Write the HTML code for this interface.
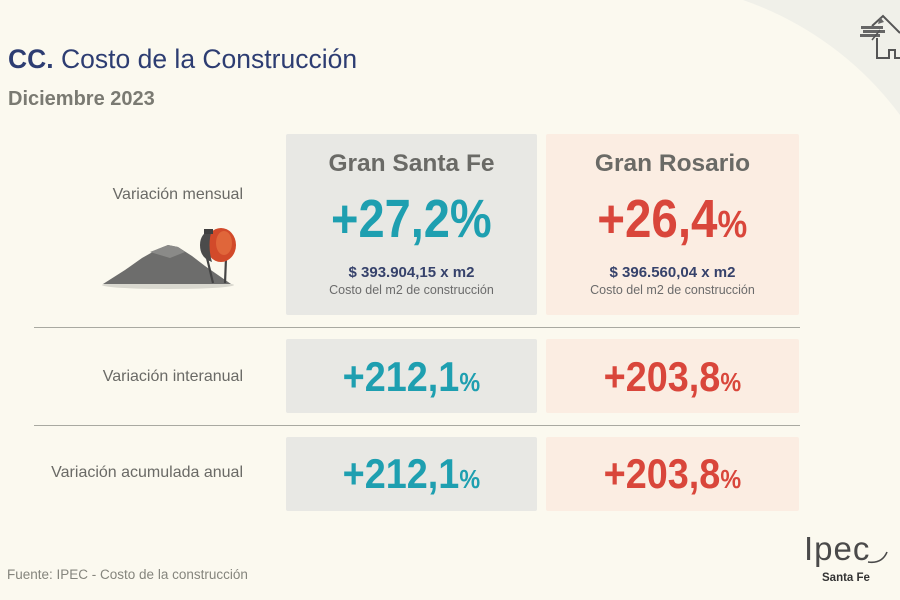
<!DOCTYPE html>
<html>
<head>
<meta charset="utf-8">
<style>
  html,body{margin:0;padding:0;}
  body{width:900px;height:600px;position:relative;overflow:hidden;background:#fbf9ef;font-family:"Liberation Sans",sans-serif;}
  .abs{position:absolute;white-space:nowrap;}
  .card{position:absolute;border-radius:2px;}
  .sf{background:#e8e8e4;}
  .ro{background:#fbede2;}
  .c{text-align:center;}
  .big{display:inline-block;font-weight:bold;transform-origin:center;}
  .hline{position:absolute;left:34px;width:766px;height:1px;background:#a9a9a1;}
  .lbl{position:absolute;right:657px;color:#6a6a66;font-size:16px;line-height:16px;white-space:nowrap;}
</style>
</head>
<body>
<svg class="abs" style="left:0;top:0" width="900" height="600" viewBox="0 0 900 600">
  <path d="M743,0 L900,0 L900,115 A330,330 0 0,0 743,0 Z" fill="#f0f0e9"/>
  <!-- house icon -->
  <g stroke="#555" stroke-width="2" fill="none">
    <polyline points="872,26 883,16 900,33"/>
    <polyline points="877,38 877,58 889,58 889,50 895,50 895,58 900,58"/>
  </g>
  <g fill="#666">
    <rect x="861" y="26" width="22" height="3"/>
    <rect x="863" y="30" width="22" height="3"/>
    <rect x="860" y="34" width="20" height="3"/>
    <polygon points="880,17 884,22 878,24"/>
    <line x1="872" y1="40" x2="880" y2="30" stroke="#555" stroke-width="1.5"/>
  </g>
  <!-- concrete mixer illustration -->
  <ellipse cx="168" cy="285" rx="66" ry="4" fill="#d9d8cf"/>
  <polygon points="103,284 125,270 142,258 158,249 168,245 178,247 192,256 205,266 218,275 231,284" fill="#6d6d6c"/>
  <polygon points="150,252 168,245 178,247 185,252 170,258" fill="#8a8a88"/>
  <g stroke="#444" stroke-width="2.2">
    <line x1="207" y1="258" x2="213" y2="283"/>
    <line x1="226" y1="258" x2="225" y2="283"/>
  </g>
  <ellipse cx="221" cy="245" rx="15" ry="17" fill="#d24a2a"/>
  <ellipse cx="224" cy="243" rx="8" ry="12" fill="#e0663a"/>
  <path d="M212,229 Q200,233 200,245 Q200,258 212,262 Q207,245 212,229 Z" fill="#4b4b4b"/>
  <rect x="204" y="229" width="9" height="5" fill="#3f3f3f"/>
</svg>

<!-- Title -->
<div class="abs" style="left:8px;top:45.6px;font-size:26.5px;line-height:26.5px;color:#2d3d72;"><b>CC.</b> Costo de la Construcción</div>
<div class="abs" style="left:8px;top:88.6px;font-size:20px;line-height:20px;color:#7a7a72;font-weight:bold;">Diciembre 2023</div>

<!-- Cards -->
<div class="card sf" style="left:286px;top:134px;width:251px;height:181px;"></div>
<div class="card ro" style="left:546px;top:134px;width:253px;height:181px;"></div>
<div class="card sf" style="left:286px;top:339px;width:251px;height:74px;"></div>
<div class="card ro" style="left:546px;top:339px;width:253px;height:74px;"></div>
<div class="card sf" style="left:286px;top:437px;width:251px;height:74px;"></div>
<div class="card ro" style="left:546px;top:437px;width:253px;height:74px;"></div>

<div class="hline" style="top:327px;"></div>
<div class="hline" style="top:425px;"></div>

<!-- Row labels -->
<div class="lbl" style="top:186.5px;">Variación mensual</div>
<div class="lbl" style="top:368.5px;">Variación interanual</div>
<div class="lbl" style="top:464.5px;">Variación acumulada anual</div>

<!-- Santa Fe top card -->
<div class="abs c" style="left:286px;width:251px;top:152.3px;font-size:24.5px;line-height:24.5px;color:#6a6a66;font-weight:bold;">Gran Santa Fe</div>
<div class="abs c" style="left:286px;width:251px;top:192.3px;font-size:54px;line-height:54px;color:#1e9fb0;"><span class="big" style="transform:scaleX(0.87);">+27,2%</span></div>
<div class="abs c" style="left:286px;width:251px;top:265.3px;font-size:15px;line-height:15px;color:#36426b;font-weight:bold;">$ 393.904,15 x m2</div>
<div class="abs c" style="left:286px;width:251px;top:284.4px;font-size:12.5px;line-height:12.5px;color:#6b6b6b;">Costo del m2 de construcción</div>

<!-- Rosario top card -->
<div class="abs c" style="left:546px;width:253px;top:152.3px;font-size:24.5px;line-height:24.5px;color:#6a6a66;font-weight:bold;">Gran Rosario</div>
<div class="abs c" style="left:546px;width:253px;top:192.3px;font-size:54px;line-height:54px;color:#d9463b;"><span class="big" style="transform:scaleX(0.88);">+26,4<span style="font-size:38px;">%</span></span></div>
<div class="abs c" style="left:546px;width:253px;top:265.3px;font-size:15px;line-height:15px;color:#36426b;font-weight:bold;">$ 396.560,04 x m2</div>
<div class="abs c" style="left:546px;width:253px;top:284.4px;font-size:12.5px;line-height:12.5px;color:#6b6b6b;">Costo del m2 de construcción</div>

<!-- Row 2 -->
<div class="abs c" style="left:286px;width:251px;top:356.4px;font-size:42px;line-height:42px;color:#1e9fb0;"><span class="big" style="transform:scaleX(0.9);">+212,1<span style="font-size:26px;">%</span></span></div>
<div class="abs c" style="left:546px;width:253px;top:356.4px;font-size:42px;line-height:42px;color:#d9463b;"><span class="big" style="transform:scaleX(0.9);">+203,8<span style="font-size:26px;">%</span></span></div>

<!-- Row 3 -->
<div class="abs c" style="left:286px;width:251px;top:453.4px;font-size:42px;line-height:42px;color:#1e9fb0;"><span class="big" style="transform:scaleX(0.9);">+212,1<span style="font-size:26px;">%</span></span></div>
<div class="abs c" style="left:546px;width:253px;top:453.4px;font-size:42px;line-height:42px;color:#d9463b;"><span class="big" style="transform:scaleX(0.9);">+203,8<span style="font-size:26px;">%</span></span></div>

<!-- Footer -->
<div class="abs" style="left:7px;top:567.6px;font-size:13.5px;line-height:13.5px;color:#85857d;">Fuente: IPEC - Costo de la construcción</div>

<!-- Logo -->
<div class="abs" style="left:804px;top:532px;font-size:33px;line-height:33px;color:#4a4a4a;letter-spacing:1px;">Ipec</div>
<svg class="abs" style="left:866px;top:546px" width="26" height="22" viewBox="0 0 26 22">
  <path d="M2,16 Q16,18 21,6" stroke="#4a4a4a" stroke-width="1.6" fill="none"/>
</svg>
<div class="abs" style="left:822px;top:573px;font-size:11.5px;line-height:11.5px;color:#333;font-weight:bold;">Santa Fe</div>
</body>
</html>
